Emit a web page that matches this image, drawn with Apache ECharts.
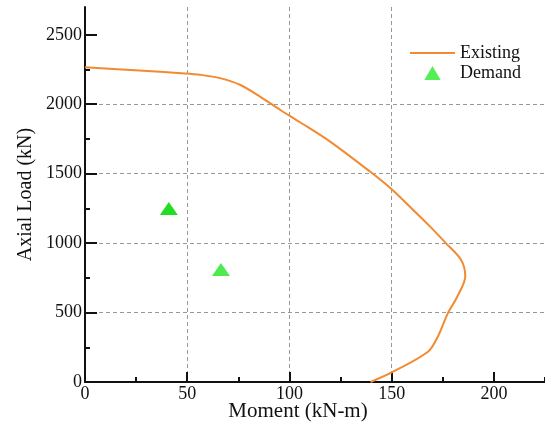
<!DOCTYPE html>
<html>
<head>
<meta charset="utf-8">
<script src="https://cdn.jsdelivr.net/npm/echarts@6/dist/echarts.min.js"></script>
<style>
  html, body { margin: 0; padding: 0; background: #fff; }
  #chart { width: 545px; height: 423px; }
</style>
</head>
<body>
<div id="chart"></div>
<script>
// interaction curve (moment kN-m, axial load kN)
const existingMoment = [0, 24.5, 49, 56.3, 66, 75.8, 85.6, 95.4, 105, 119.9, 139.4, 149.2, 159.3, 168.8, 176.5, 184, 186, 182, 177.5, 172.5, 167.6, 149.5, 139.7]
const existingLoad = [2266, 2245, 2222, 2212, 2188, 2140, 2055, 1960, 1872, 1731, 1515, 1398, 1256, 1119, 1000, 878, 760, 612, 496, 324, 216, 65, 0]

const demandMoment = [41, 66.5]
const demandLoad = [1250, 810]
const demandColors = ['#22dd22', '#4fea4f']

const xMajorTicks = [0, 50, 100, 150, 200]
const xMinorTicks = [25, 75, 125, 175, 225]
const yMajorTicks = [0, 500, 1000, 1500, 2000, 2500]
const yMinorTicks = [250, 750, 1250, 1750, 2250]

const FONT = 'Liberation Serif'
const INK = '#111'

const chart = echarts.init(document.getElementById('chart'))

const gridDash = { color: '#999', width: 1, type: [4, 3] }

function minorAxis(max, position, ticks) {
  return {
    type: 'value',
    min: 0,
    max,
    position,
    offset: 0,
    axisLine: { show: false },
    axisTick: { show: true, inside: true, length: 5, customValues: ticks, lineStyle: { color: INK, width: 2 } },
    axisLabel: { show: false },
    splitLine: { show: false }
  }
}

chart.setOption({
  animation: false,
  backgroundColor: '#fff',
  grid: { left: 85, right: 0, top: 7, bottom: 41, containLabel: false, outerBoundsMode: 'none' },
  xAxis: [
    {
      type: 'value',
      min: 0,
      max: 225,
      interval: 50,
      position: 'bottom',
      name: 'Moment (kN-m)',
      nameLocation: 'middle',
      nameGap: 19,
      nameMoveOverlap: false,
      nameTextStyle: { fontFamily: FONT, fontSize: 21, color: INK, padding: [0, 34, 0, 0] },
      axisLine: { lineStyle: { color: INK, width: 2 } },
      axisTick: { inside: true, length: 10, customValues: xMajorTicks, lineStyle: { color: INK, width: 2 } },
      axisLabel: { customValues: xMajorTicks, formatter: v => String(v), fontFamily: FONT, fontSize: 18, color: INK, margin: 3 },
      splitLine: { show: true, showMinLine: false, showMaxLine: false, lineStyle: gridDash }
    },
    minorAxis(225, 'bottom', xMinorTicks)
  ],
  yAxis: [
    {
      type: 'value',
      min: 0,
      max: 2700,
      interval: 500,
      position: 'left',
      name: 'Axial Load (kN)',
      nameLocation: 'middle',
      nameGap: 49,
      nameMoveOverlap: false,
      nameTextStyle: { fontFamily: FONT, fontSize: 20, color: INK },
      axisLine: { lineStyle: { color: INK, width: 2 } },
      axisTick: { inside: true, length: 12, customValues: yMajorTicks, lineStyle: { color: INK, width: 2 } },
      axisLabel: { customValues: yMajorTicks, formatter: v => String(v), fontFamily: FONT, fontSize: 18, color: INK, margin: 3 },
      splitLine: { show: true, showMinLine: false, showMaxLine: false, lineStyle: gridDash }
    },
    minorAxis(2700, 'left', yMinorTicks)
  ],
  legend: {
    data: [
      { name: 'Existing', icon: 'path://M0,0L45,0L45,2L0,2Z' },
      { name: 'Demand', icon: 'path://M7,0L14,12L0,12Z' }
    ],
    orient: 'vertical',
    left: 398,
    top: 40,
    padding: [4, 10, 4, 12],
    backgroundColor: '#fff',
    itemWidth: 45,
    itemHeight: 14,
    itemGap: 2,
    symbolKeepAspect: true,
    textStyle: { fontFamily: FONT, fontSize: 18, color: INK }
  },
  series: [
    {
      name: 'Existing',
      type: 'line',
      xAxisIndex: 0,
      yAxisIndex: 0,
      symbol: 'none',
      smooth: 0.3,
      data: existingMoment.map((m, i) => [m, existingLoad[i]]),
      lineStyle: { color: '#f28a30', width: 2 },
      itemStyle: { color: '#f28a30' }
    },
    {
      name: 'Demand',
      type: 'scatter',
      xAxisIndex: 0,
      yAxisIndex: 0,
      symbol: 'triangle',
      symbolSize: [18, 13],
      data: demandMoment.map((m, i) => ({ value: [m, demandLoad[i]], itemStyle: { color: demandColors[i] } })),
      itemStyle: { color: '#55ee55', opacity: 1 }
    }
  ]
})
</script>
</body>
</html>
